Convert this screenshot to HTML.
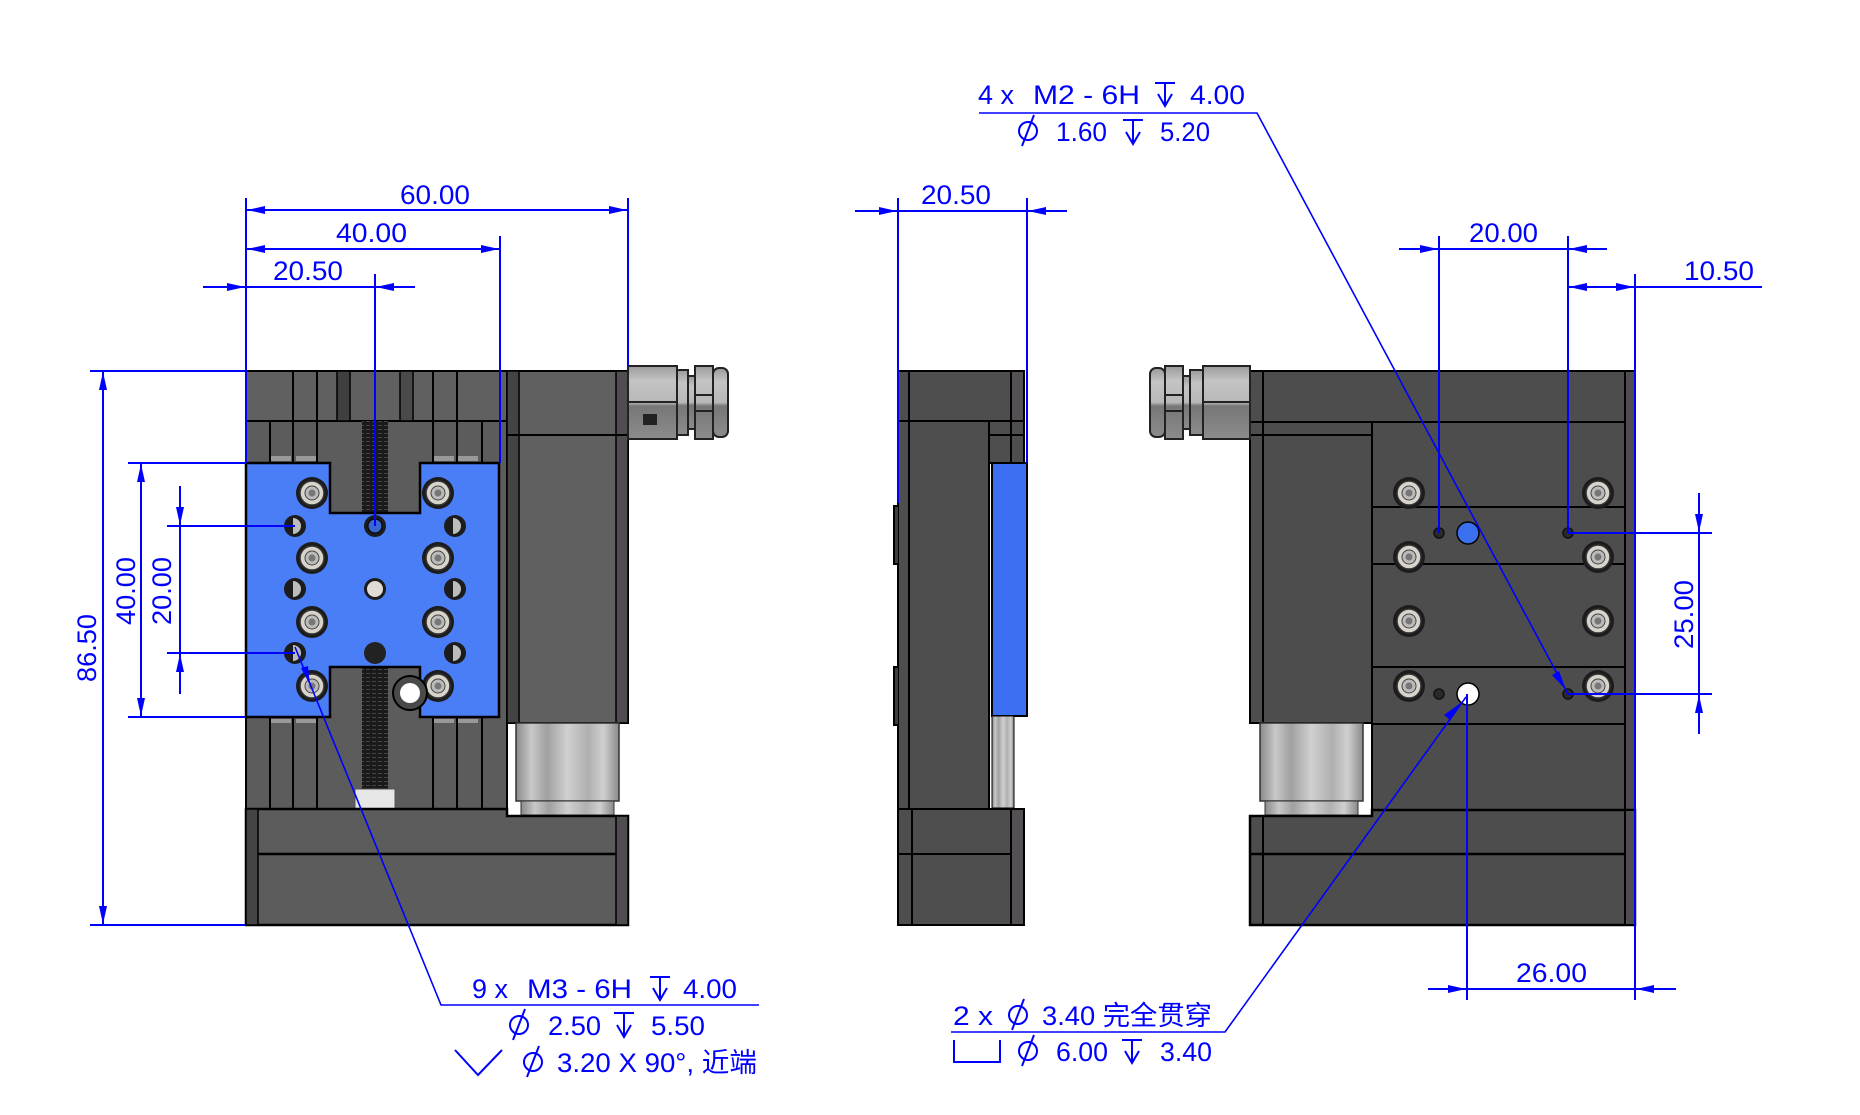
<!DOCTYPE html>
<html><head><meta charset="utf-8"><style>
html,body{margin:0;padding:0;background:#fff;}
svg{display:block}
text{font-family:"Liberation Sans","Noto Sans CJK SC",sans-serif;fill:#0000ff;}
</style></head><body>
<svg width="1860" height="1115" viewBox="0 0 1860 1115" xmlns="http://www.w3.org/2000/svg">
<defs>
<linearGradient id="cyl" x1="0" x2="1" y1="0" y2="0">
<stop offset="0" stop-color="#8a8a8a"/><stop offset="0.15" stop-color="#c8c8c8"/><stop offset="0.3" stop-color="#a0a0a0"/><stop offset="0.5" stop-color="#d0d0d0"/><stop offset="0.7" stop-color="#b0b0b0"/><stop offset="0.85" stop-color="#cfcfcf"/><stop offset="1" stop-color="#8a8a8a"/>
</linearGradient>
<linearGradient id="conn" x1="0" x2="0" y1="0" y2="1">
<stop offset="0" stop-color="#9a9a9a"/><stop offset="0.2" stop-color="#c4c4c4"/><stop offset="0.5" stop-color="#b8b8b8"/><stop offset="0.55" stop-color="#777"/><stop offset="1" stop-color="#8c8c8c"/>
</linearGradient>
<pattern id="thread" width="6" height="4" patternUnits="userSpaceOnUse"><rect width="6" height="4" fill="#1a1a1a"/><rect y="1" width="4" height="1" fill="#444"/></pattern>
<g id="screw"><circle r="16" fill="#1c1c1c"/><circle r="12" fill="#d8d4cc" stroke="#333" stroke-width="1.5"/><circle r="7" fill="#bbb" stroke="#444" stroke-width="1"/><circle r="3.5" fill="#777"/></g>
<g id="shole"><circle r="11" fill="#1c1c1c"/><path d="M-2 -8 A8 8 0 0 1 -2 8 Z" fill="#bdbdbd"/></g>
</defs>

<!-- LEFT VIEW -->
<rect x="246" y="421" width="261" height="388" fill="#5c5c5c" stroke="#000" stroke-width="2"/>
<rect x="246" y="371" width="261" height="50" fill="#606060" stroke="#000" stroke-width="2"/>
<rect x="337" y="371" width="13" height="50" fill="#3f3f3f" stroke="#000" stroke-width="1.5"/>
<rect x="400" y="371" width="13" height="50" fill="#4a4a4a" stroke="#000" stroke-width="1.5"/>
<g stroke="#000" stroke-width="2">
<line x1="293" y1="371" x2="293" y2="421"/><line x1="317" y1="371" x2="317" y2="421"/>
<line x1="433" y1="371" x2="433" y2="421"/><line x1="457" y1="371" x2="457" y2="421"/>
<line x1="270" y1="421" x2="270" y2="463"/><line x1="293" y1="421" x2="293" y2="463"/><line x1="317" y1="421" x2="317" y2="463"/>
<line x1="433" y1="421" x2="433" y2="463"/><line x1="457" y1="421" x2="457" y2="463"/><line x1="482" y1="421" x2="482" y2="463"/>
<line x1="270" y1="717" x2="270" y2="809"/><line x1="293" y1="717" x2="293" y2="809"/><line x1="317" y1="717" x2="317" y2="809"/>
<line x1="433" y1="717" x2="433" y2="809"/><line x1="457" y1="717" x2="457" y2="809"/><line x1="482" y1="717" x2="482" y2="809"/>
</g>
<g fill="#999"><rect x="271" y="456" width="20" height="5"/><rect x="296" y="456" width="20" height="5"/><rect x="434" y="456" width="20" height="5"/><rect x="458" y="456" width="20" height="5"/>
<rect x="271" y="719" width="20" height="4"/><rect x="296" y="719" width="20" height="4"/><rect x="434" y="719" width="20" height="4"/><rect x="458" y="719" width="20" height="4"/></g>
<rect x="362" y="421" width="26" height="92" fill="url(#thread)"/>
<rect x="362" y="667" width="26" height="122" fill="url(#thread)"/>
<rect x="355" y="789" width="40" height="20" fill="#e6e6e6" stroke="#555" stroke-width="1"/>
<path d="M246 463 H330 V513 H420 V463 H499 V717 H420 V667 H330 V717 H246 Z" fill="#4a7ef7" stroke="#000" stroke-width="2.5"/>
<use href="#screw" x="312" y="493"/><use href="#screw" x="438" y="493"/>
<use href="#screw" x="312" y="558"/><use href="#screw" x="438" y="558"/>
<use href="#screw" x="312" y="622"/><use href="#screw" x="438" y="622"/>
<use href="#screw" x="312" y="686"/><use href="#screw" x="438" y="686"/>
<use href="#shole" x="295" y="526"/><use href="#shole" x="455" y="526"/>
<use href="#shole" x="295" y="589"/><use href="#shole" x="455" y="589"/>
<use href="#shole" x="295" y="653"/><use href="#shole" x="455" y="653"/>
<circle cx="375" cy="526" r="11" fill="#1c1c1c"/><circle cx="375" cy="526" r="7" fill="#3a66d0" stroke="#000"/>
<circle cx="375" cy="589" r="11" fill="#1c1c1c"/><circle cx="375" cy="589" r="8" fill="#e0dcd4"/>
<circle cx="375" cy="653" r="11" fill="#222"/>
<circle cx="410" cy="693" r="17" fill="#4a4a4a" stroke="#000" stroke-width="2"/><circle cx="410" cy="693" r="10" fill="#fff"/>
<rect x="507" y="371" width="121" height="352" fill="#606060" stroke="#000" stroke-width="2"/>
<rect x="507" y="371" width="12" height="352" fill="#444" stroke="#000" stroke-width="1.5"/>
<rect x="616" y="371" width="12" height="352" fill="#504c52" stroke="#000" stroke-width="1.5"/>
<line x1="507" y1="435" x2="628" y2="435" stroke="#000" stroke-width="2"/>
<rect x="516" y="723" width="103" height="78" fill="url(#cyl)" stroke="#333" stroke-width="1.5"/>
<rect x="521" y="801" width="93" height="14" fill="url(#cyl)" stroke="#333" stroke-width="1"/>
<path d="M246 809 H507 V816 H628 V925 H246 Z" fill="#5c5c5c" stroke="#000" stroke-width="2.5"/>
<line x1="246" y1="854" x2="628" y2="854" stroke="#000" stroke-width="2.5"/>
<rect x="246" y="809" width="12" height="116" fill="#444" stroke="#000" stroke-width="1.5"/>
<rect x="616" y="816" width="12" height="109" fill="#504c52" stroke="#000" stroke-width="1.5"/>
<g stroke="#222" stroke-width="2">
<rect x="628" y="366" width="49" height="73" fill="url(#conn)"/>
<line x1="628" y1="402" x2="677" y2="402"/>
<rect x="677" y="370" width="11" height="65" fill="url(#conn)"/>
<rect x="688" y="376" width="7" height="53" fill="url(#conn)"/>
<rect x="695" y="366" width="18" height="73" fill="url(#conn)"/>
<line x1="695" y1="395" x2="713" y2="395"/><line x1="695" y1="411" x2="713" y2="411"/>
<rect x="713" y="368" width="15" height="69" rx="6" fill="url(#conn)"/>
</g>
<rect x="643" y="414" width="14" height="11" fill="#222"/>

<!-- MIDDLE VIEW -->
<g stroke="#000" stroke-width="2">
<rect x="898" y="371" width="126" height="50" fill="#4e4e4e"/>
<rect x="898" y="421" width="91" height="388" fill="#4e4e4e"/>
<rect x="989" y="421" width="35" height="42" fill="#4e4e4e"/>
<line x1="989" y1="435" x2="1024" y2="435"/>
<line x1="909" y1="371" x2="909" y2="809"/>
<line x1="1011" y1="371" x2="1011" y2="463"/>
<rect x="992" y="463" width="35" height="253" fill="#3d6ff2"/>
<rect x="992" y="716" width="22" height="92" fill="url(#cyl)" stroke-width="1"/>
<rect x="898" y="809" width="126" height="116" fill="#4e4e4e"/>
<line x1="898" y1="854" x2="1024" y2="854"/>
<line x1="912" y1="809" x2="912" y2="925"/>
<rect x="1011" y="809" width="13" height="116" fill="#545054"/>
<path d="M898 506 H894 V564 H898 M898 667 H894 V725 H898" fill="#3f3f3f"/>
</g>
<rect x="1012" y="372" width="11" height="48" fill="#545054"/>

<!-- RIGHT VIEW -->
<g stroke="#000" stroke-width="2">
<rect x="1250" y="371" width="385" height="51" fill="#4d4d4d"/>
<rect x="1250" y="422" width="122" height="301" fill="#4d4d4d"/>
<line x1="1250" y1="435" x2="1372" y2="435"/>
<line x1="1263" y1="371" x2="1263" y2="723"/>
<rect x="1372" y="422" width="253" height="85" fill="#4d4d4d"/>
<rect x="1372" y="507" width="253" height="57" fill="#4d4d4d"/>
<rect x="1372" y="564" width="253" height="103" fill="#4d4d4d"/>
<rect x="1372" y="667" width="253" height="57" fill="#4d4d4d"/>
<rect x="1372" y="724" width="253" height="86" fill="#4d4d4d"/>
<rect x="1625" y="371" width="10" height="554" fill="#504c52"/>
<rect x="1260" y="723" width="103" height="78" fill="url(#cyl)" stroke="#333" stroke-width="1.5"/>
<rect x="1265" y="801" width="93" height="14" fill="url(#cyl)" stroke="#333" stroke-width="1"/>
<path d="M1250 816 H1372 V810 H1635 V925 H1250 Z" fill="#4d4d4d" stroke-width="2.5"/>
<line x1="1250" y1="854" x2="1635" y2="854" stroke-width="2.5"/>
<line x1="1263" y1="816" x2="1263" y2="925"/>
<rect x="1625" y="810" width="10" height="115" fill="#504c52"/>
</g>
<use href="#screw" x="1409" y="493"/><use href="#screw" x="1598" y="493"/>
<use href="#screw" x="1409" y="557"/><use href="#screw" x="1598" y="557"/>
<use href="#screw" x="1409" y="621"/><use href="#screw" x="1598" y="621"/>
<use href="#screw" x="1409" y="686"/><use href="#screw" x="1598" y="686"/>
<g fill="#2a2a2a" stroke="#111" stroke-width="1.5">
<circle cx="1439" cy="533" r="5"/><circle cx="1568" cy="533" r="5"/>
<circle cx="1439" cy="694" r="5"/><circle cx="1568" cy="694" r="5"/>
</g>
<circle cx="1468" cy="533" r="11" fill="#3a70ee" stroke="#000" stroke-width="1.5"/>
<circle cx="1468" cy="694" r="11" fill="#fff" stroke="#000" stroke-width="1.5"/>
<g stroke="#222" stroke-width="2">
<rect x="1203" y="366" width="47" height="73" fill="url(#conn)"/>
<line x1="1203" y1="402" x2="1250" y2="402"/>
<rect x="1190" y="370" width="13" height="65" fill="url(#conn)"/>
<rect x="1183" y="376" width="7" height="53" fill="url(#conn)"/>
<rect x="1165" y="366" width="18" height="73" fill="url(#conn)"/>
<line x1="1165" y1="395" x2="1183" y2="395"/><line x1="1165" y1="411" x2="1183" y2="411"/>
<rect x="1150" y="368" width="15" height="69" rx="6" fill="url(#conn)"/>
</g>

<!-- DIMENSIONS -->
<g stroke="#0000ff" stroke-width="2" fill="none">
<line x1="246" y1="198" x2="246" y2="463"/>
<line x1="628" y1="198" x2="628" y2="366"/>
<line x1="246" y1="210" x2="628" y2="210"/>
<line x1="500" y1="236" x2="500" y2="463"/>
<line x1="246" y1="249" x2="500" y2="249"/>
<line x1="375" y1="274" x2="375" y2="526"/>
<line x1="203" y1="287" x2="415" y2="287"/>
<line x1="90" y1="371" x2="246" y2="371"/>
<line x1="90" y1="925" x2="246" y2="925"/>
<line x1="103" y1="371" x2="103" y2="925"/>
<line x1="128" y1="463" x2="246" y2="463"/>
<line x1="128" y1="717" x2="246" y2="717"/>
<line x1="141" y1="463" x2="141" y2="717"/>
<line x1="167" y1="526" x2="295" y2="526"/>
<line x1="167" y1="653" x2="295" y2="653"/>
<line x1="180" y1="486" x2="180" y2="694"/>
<line x1="898" y1="198" x2="898" y2="503"/>
<line x1="1027" y1="198" x2="1027" y2="463"/>
<line x1="855" y1="211" x2="1067" y2="211"/>
<line x1="1439" y1="236" x2="1439" y2="533"/>
<line x1="1568" y1="236" x2="1568" y2="533"/>
<line x1="1399" y1="249" x2="1607" y2="249"/>
<line x1="1635" y1="274" x2="1635" y2="1000"/>
<line x1="1568" y1="287" x2="1762" y2="287"/>
<line x1="1568" y1="533" x2="1712" y2="533"/>
<line x1="1568" y1="694" x2="1712" y2="694"/>
<line x1="1699" y1="493" x2="1699" y2="734"/>
<line x1="1467" y1="694" x2="1467" y2="1000"/>
<line x1="1428" y1="989" x2="1676" y2="989"/>
</g>
<g stroke="#0000ff" stroke-width="1.6" fill="none">
<polyline points="295,647 441,1005 759,1005"/>
<polyline points="979,113 1257,113 1568,694"/>
<polyline points="1466,697 1225,1032 951,1032"/>
</g>
<g fill="#0000ff">
<polygon points="247,210 265,206 265,214"/><polygon points="627,210 609,206 609,214"/>
<polygon points="247,249 265,245 265,253"/><polygon points="499,249 481,245 481,253"/>
<polygon points="245,287 227,283 227,291"/><polygon points="376,287 394,283 394,291"/>
<polygon points="103,372 99,390 107,390"/><polygon points="103,924 99,906 107,906"/>
<polygon points="141,464 137,482 145,482"/><polygon points="141,716 137,698 145,698"/>
<polygon points="180,525 176,507 184,507"/><polygon points="180,654 176,672 184,672"/>
<polygon points="897,211 879,207 879,215"/><polygon points="1028,211 1046,207 1046,215"/>
<polygon points="1438,249 1420,245 1420,253"/><polygon points="1569,249 1587,245 1587,253"/>
<polygon points="1569,287 1587,283 1587,291"/><polygon points="1634,287 1616,283 1616,291"/>
<polygon points="1699,532 1695,514 1703,514"/><polygon points="1699,695 1695,713 1703,713"/>
<polygon points="1466,989 1448,985 1448,993"/><polygon points="1636,989 1654,985 1654,993"/>
<polygon points="310,685 301,668 308,666"/>
<polygon points="1566,690 1552,675 1559,671"/>
<polygon points="1462,702 1450,720 1444,715"/>
</g>

<g font-size="27">
<text x="400" y="204" textLength="70" lengthAdjust="spacingAndGlyphs">60.00</text>
<text x="336" y="242" textLength="71" lengthAdjust="spacingAndGlyphs">40.00</text>
<text x="273" y="280" textLength="70" lengthAdjust="spacingAndGlyphs">20.50</text>
<text x="921" y="204" textLength="70" lengthAdjust="spacingAndGlyphs">20.50</text>
<text x="1469" y="242" textLength="69" lengthAdjust="spacingAndGlyphs">20.00</text>
<text x="1684" y="280" textLength="70" lengthAdjust="spacingAndGlyphs">10.50</text>
<text x="1516" y="982" textLength="71" lengthAdjust="spacingAndGlyphs">26.00</text>
<text transform="translate(96,682) rotate(-90)" textLength="68" lengthAdjust="spacingAndGlyphs">86.50</text>
<text transform="translate(135,625) rotate(-90)" textLength="68" lengthAdjust="spacingAndGlyphs">40.00</text>
<text transform="translate(171,625) rotate(-90)" textLength="68" lengthAdjust="spacingAndGlyphs">20.00</text>
<text transform="translate(1693,649) rotate(-90)" textLength="69" lengthAdjust="spacingAndGlyphs">25.00</text>
</g>

<g font-size="27">
<text x="472" y="998">9 x</text>
<text x="527" y="998" textLength="105" lengthAdjust="spacingAndGlyphs">M3 - 6H</text>
<text x="683" y="998" textLength="54" lengthAdjust="spacingAndGlyphs">4.00</text>
<text x="548" y="1035" textLength="53" lengthAdjust="spacingAndGlyphs">2.50</text>
<text x="651" y="1035" textLength="54" lengthAdjust="spacingAndGlyphs">5.50</text>
<text x="557" y="1072" textLength="200" lengthAdjust="spacingAndGlyphs">3.20 X 90°, 近端</text>
</g>
<g font-size="27">
<text x="978" y="104">4 x</text>
<text x="1033" y="104" textLength="107" lengthAdjust="spacingAndGlyphs">M2 - 6H</text>
<text x="1190" y="104" textLength="55" lengthAdjust="spacingAndGlyphs">4.00</text>
<text x="1056" y="141" textLength="51" lengthAdjust="spacingAndGlyphs">1.60</text>
<text x="1160" y="141" textLength="50" lengthAdjust="spacingAndGlyphs">5.20</text>
</g>
<g font-size="27">
<text x="953" y="1025" textLength="40" lengthAdjust="spacingAndGlyphs">2 x</text>
<text x="1042" y="1025" textLength="170" lengthAdjust="spacingAndGlyphs">3.40 完全贯穿</text>
<text x="1056" y="1061" textLength="52" lengthAdjust="spacingAndGlyphs">6.00</text>
<text x="1160" y="1061" textLength="52" lengthAdjust="spacingAndGlyphs">3.40</text>
</g>

<g stroke="#0000ff" stroke-width="2" fill="none">
<path d="M650 977 H670 M660 977 V1000 M653 988 L660 1000 L667 988"/>
<path d="M614 1013 H634 M624 1013 V1037 M617 1025 L624 1037 L631 1025"/>
<path d="M1155 83 H1175 M1165 83 V106 M1158 94 L1165 106 L1172 94"/>
<path d="M1123 120 H1143 M1133 120 V144 M1126 132 L1133 144 L1140 132"/>
<path d="M1122 1040 H1142 M1132 1040 V1063 M1125 1051 L1132 1063 L1139 1051"/>
<circle cx="519" cy="1025" r="9"/><line x1="513" y1="1040" x2="525" y2="1009"/>
<circle cx="533" cy="1062" r="9"/><line x1="527" y1="1077" x2="539" y2="1046"/>
<circle cx="1028" cy="131" r="9"/><line x1="1022" y1="146" x2="1034" y2="115"/>
<circle cx="1018" cy="1015" r="9"/><line x1="1012" y1="1030" x2="1024" y2="999"/>
<circle cx="1028" cy="1051" r="9"/><line x1="1022" y1="1066" x2="1034" y2="1035"/>
<polyline points="455,1050 478,1075 502,1050"/>
<polyline points="954,1040 954,1062 1000,1062 1000,1040"/>
</g>
</svg>
</body></html>
